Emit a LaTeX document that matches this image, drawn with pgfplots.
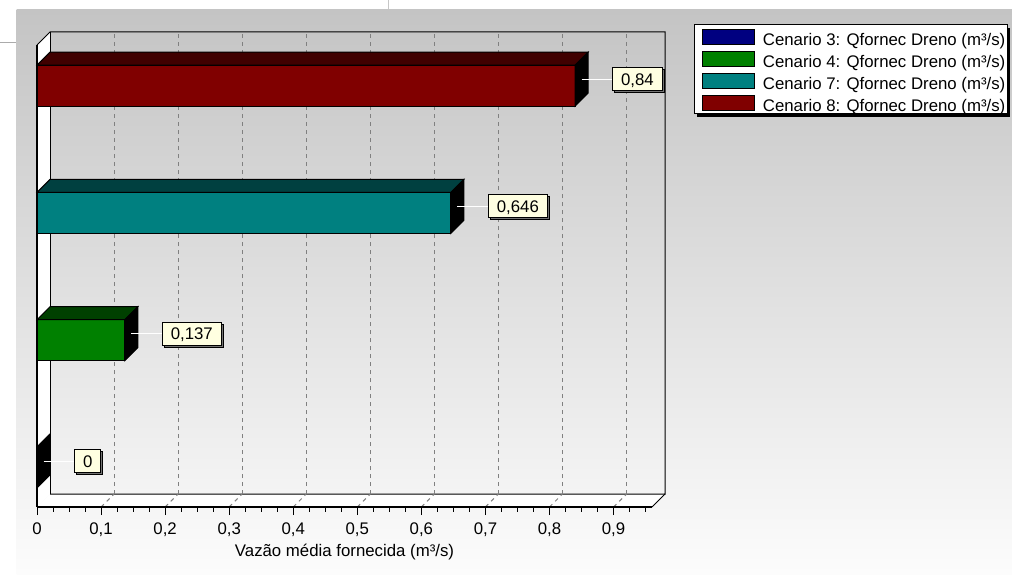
\documentclass[border=0pt]{standalone}
\usepackage{pgfplots}
\pgfplotsset{compat=1.18}
\usepackage{pgfplotstable}
\usepackage{fontspec}
\setmainfont{Liberation Sans}
\usetikzlibrary{shadows}

\definecolor{serNavy}{RGB}{0,0,128}
\definecolor{serNavyTop}{RGB}{0,0,64}
\definecolor{serGreen}{RGB}{0,128,0}
\definecolor{serGreenTop}{RGB}{0,64,0}
\definecolor{serTeal}{RGB}{0,128,128}
\definecolor{serTealTop}{RGB}{0,64,64}
\definecolor{serRed}{RGB}{128,0,0}
\definecolor{serRedTop}{RGB}{64,0,0}
\definecolor{panelTop}{RGB}{196,196,196}
\definecolor{panelBottom}{RGB}{252,252,252}
\definecolor{tipFill}{RGB}{255,255,225}

\newcommand\chartfont{\fontsize{16.8}{20}\selectfont}

% Vazão média fornecida por cenário (m³/s); cat = posição da barra
\pgfplotstableread{
cat val   top
0   0     serNavyTop
1   0.137 serGreenTop
2   0.646 serTealTop
3   0.84  serRedTop
}\vazao

\tikzset{valbox/.style={draw=black, line width=1pt, fill=tipFill,
    inner xsep=8.5pt, inner ysep=0pt, minimum height=23pt,
    text height=12pt, text depth=0pt, font=\chartfont,
    drop shadow={shadow xshift=2pt, shadow yshift=-2pt, fill=black!55, opacity=1}}}

\pgfplotsset{
  cenario/.style={xbar, bar width=41pt, bar shift=0pt, draw=black, line width=1pt},
}

\begin{document}
\begin{tikzpicture}
\useasboundingbox (0,0) rectangle (1012pt,574pt);
\fill[white] (0,0) rectangle (1012pt,574pt);
% painel com degradê
\shade[top color=panelTop, bottom color=panelBottom] (16.5pt,0) rectangle (1012pt,564.5pt);
\draw[black!33, line width=1pt] (0,531.5pt) -- (15.5pt,531.5pt);
\draw[black!22, line width=1pt] (388pt,564.5pt) -- (388pt,574pt);

% paredes 3D: parede esquerda e piso
\fill[white] (37pt,67pt) -- (37pt,529pt) -- (50pt,542pt) -- (50pt,80pt) -- cycle;
\fill[white] (37pt,67pt) -- (652pt,67pt) -- (665pt,80pt) -- (50pt,80pt) -- cycle;
\draw[black, line width=1pt] (50pt,80pt) -- (665pt,80pt) -- (665pt,542pt) -- (50pt,542pt) -- (37pt,529pt);
\draw[black, line width=1pt] (652pt,67pt) -- (665pt,80pt);
\foreach \k in {1,...,9}
  \draw[gray, line width=1pt, dash pattern=on 4pt off 4pt] ({37pt+64.0625pt*\k},67pt) -- ++(13pt,13pt);

\begin{axis}[
  at={(37pt,67pt)}, anchor=south west,
  x=640.625pt, y=127.3pt,
  xmin=0, xmax=0.96, ymin=-0.31, ymax=3.32,
  clip=false,
  axis x line*=bottom, axis y line*=left,
  axis line style={-, line width=2pt, black},
  ytick=\empty,
  xtick={0,0.1,0.2,0.3,0.4,0.5,0.6,0.7,0.8,0.9},
  minor xtick={0.025,0.05,...,0.95},
  tick align=outside,
  major tick length=8pt, minor tick length=4.5pt,
  tick style={black, line width=1pt},
  xmajorgrids,
  major grid style={gray, line width=1pt, dash pattern=on 4pt off 4pt, xshift=13pt, yshift=13pt},
  /pgf/number format/use comma,
  /pgf/number format/precision=3,
  /pgf/number format/assume math mode=true,
  xticklabel style={font=\chartfont, yshift=-4pt},
  xlabel={Vazão média fornecida (m³/s)},
  xlabel style={font=\chartfont, at={(axis description cs:0.5,0)}, anchor=base, yshift=-49pt},
]
% aresta posterior esquerda
\draw[black, line width=1pt] (rel axis cs:0,0) ++(13pt,13pt) -- ++(0pt,462pt);

\addplot[cenario, fill=serNavy, restrict y to domain=-0.5:0.5]  table[x=val, y=cat] {\vazao};
\addplot[cenario, fill=serGreen, restrict y to domain=0.5:1.5] table[x=val, y=cat] {\vazao};
\addplot[cenario, fill=serTeal, restrict y to domain=1.5:2.5]  table[x=val, y=cat] {\vazao};
\addplot[cenario, fill=serRed, restrict y to domain=2.5:3.5]   table[x=val, y=cat] {\vazao};

% faces superior e lateral de cada barra, com a etiqueta de valor
\addplot[forget plot, scatter, only marks, mark=*, mark size=0pt,
  mark options={draw=none, fill=none},
  point meta=explicit symbolic,
  visualization depends on={x \as \barval},
  scatter/@pre marker code/.code={%
    \scope
    \pgfkeys{/pgf/fpu=true}%
    \pgfmathparse{\barval*640.625}%
    \pgfmathfloattofixed{\pgfmathresult}%
    \let\barlen=\pgfmathresult
    \pgfkeys{/pgf/fpu=false}%
    \edef\topcol{\pgfplotspointmeta}%
    \filldraw[fill=\topcol, draw=black, line width=1pt]
      ({-\barlen pt},20.5pt) -- (0pt,20.5pt) -- (13pt,33.5pt) -- ({13pt-\barlen pt},33.5pt) -- cycle;
    \filldraw[fill=black, draw=black, line width=1pt]
      (0pt,-20.5pt) -- (0pt,20.5pt) -- (13pt,33.5pt) -- (13pt,-7.5pt) -- cycle;
    \draw[white, line width=1pt] (6.5pt,6.5pt) -- (37pt,6.5pt);
    \node[valbox, anchor=west] at (37pt,6.5pt) {\pgfmathprintnumber{\barval}};
  },
  scatter/@post marker code/.code={\endscope},
] table[x=val, y=cat, meta=top] {\vazao};
\end{axis}

% legenda das séries
\draw[fill=white, draw=black, line width=1pt,
  drop shadow={shadow xshift=3pt, shadow yshift=-3pt, fill=black, opacity=1}]
  (694pt,549pt) rectangle (1007pt,460pt);
\foreach \c/\n [count=\i from 0] in {serNavy/3, serGreen/4, serTeal/7, serRed/8} {
  \draw[fill=\c, draw=black, line width=1pt]
    (702.7pt,{544pt-22pt*\i}) rectangle (754.3pt,{529.7pt-22pt*\i});
  \node[anchor=base west, inner sep=0pt, font=\chartfont]
    at (762.7pt,{528.5pt-22pt*\i}) {Cenario \n: Qfornec Dreno (m³/s)};
}
\end{tikzpicture}
\end{document}
